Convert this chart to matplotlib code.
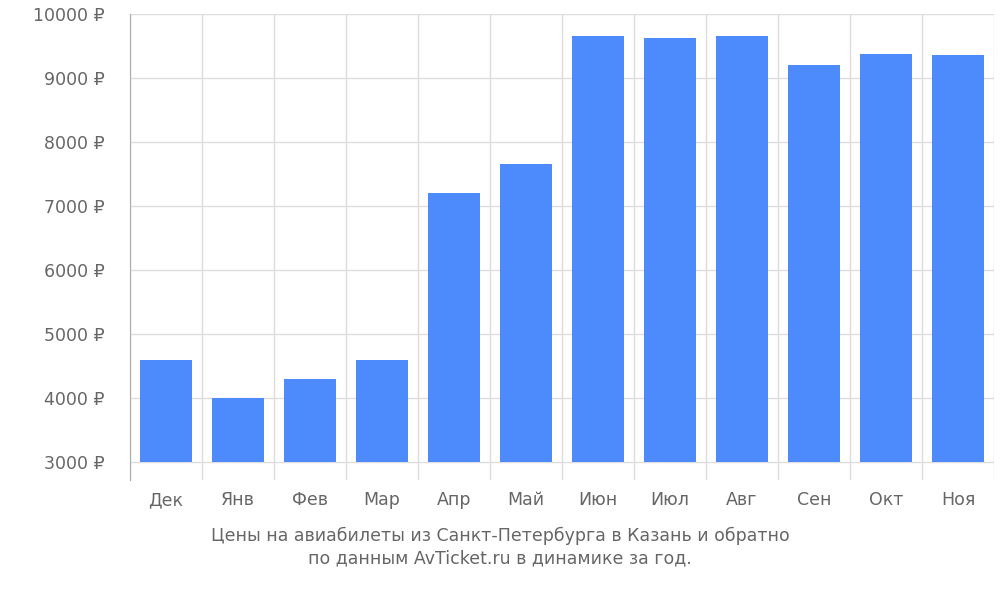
import matplotlib
matplotlib.use("Agg")
import matplotlib.pyplot as plt
import numpy as np

months = ["Дек","Янв","Фев","Мар","Апр","Май","Июн","Июл","Авг","Сен","Окт","Ноя"]
prices = [4600, 4000, 4300, 4600, 7200, 7650, 9650, 9620, 9650, 9200, 9370, 9350]
yticks = [3000, 4000, 5000, 6000, 7000, 8000, 9000, 10000]

plt.rcParams['font.family'] = ['DejaVu Sans']
fig = plt.figure(figsize=(10, 6), dpi=100)
ax = fig.add_axes([0.13, 0.2, 0.864, 0.777])
x = np.arange(len(months))
base = 3000
ax.bar(x, [p - base for p in prices], bottom=base, width=0.72, color="#4d8afb", zorder=3)
ax.set_xlim(-0.5, len(months) - 0.5)
ax.set_ylim(base - 18 * 1000 / 64, 10000)
ax.set_yticks(yticks)
ax.set_yticklabels([f"{v} ₽" for v in yticks], fontsize=12.5, color="#666666")
ax.set_xticks(x)
ax.set_xticklabels(months, fontsize=12.5, color="#666666")
ax.tick_params(axis='x', length=0, pad=8)
ax.tick_params(axis='y', length=0, pad=18)
for b in np.arange(-0.5, len(months), 1):
    ax.axvline(b, color="#dddddd", lw=1, zorder=1)
for v in yticks:
    ax.axhline(v, color="#dddddd", lw=1, zorder=1)
for s in ["top", "right", "bottom"]:
    ax.spines[s].set_visible(False)
ax.spines["left"].set_color("#aaaaaa")
fig.text(0.5, 0.088, "Цены на авиабилеты из Санкт-Петербурга в Казань и обратно\nпо данным AvTicket.ru в динамике за год.",
         ha="center", va="center", fontsize=12.5, color="#666666", linespacing=1.3)
fig.savefig("out.png", dpi=100)
